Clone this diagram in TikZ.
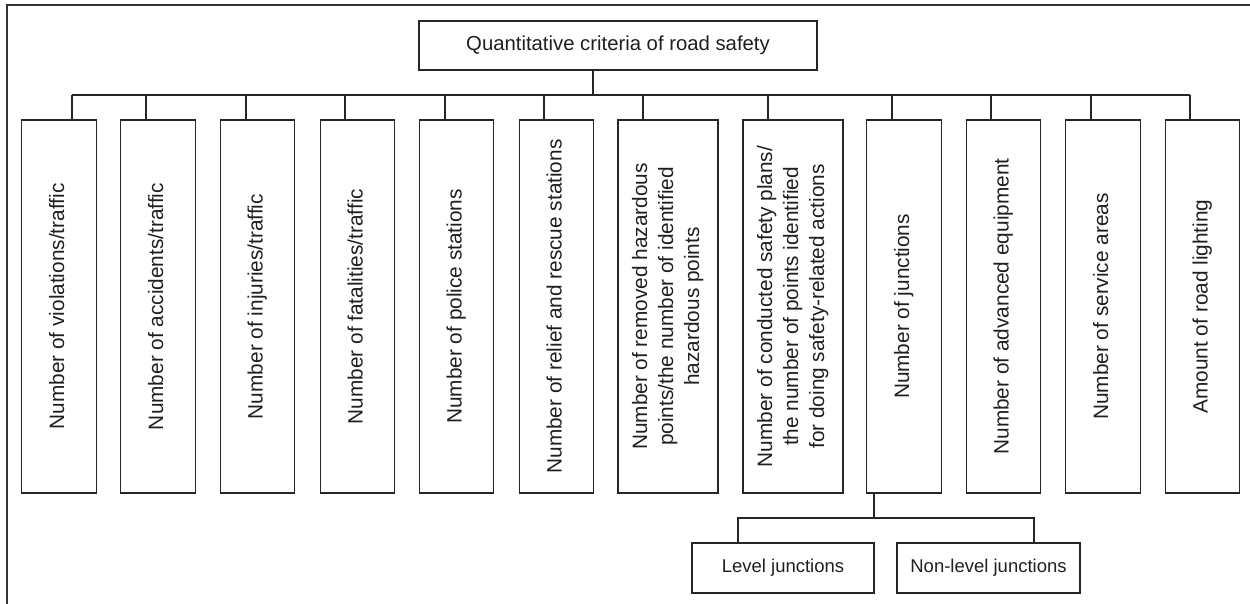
\documentclass[tikz,border=0pt]{standalone}
\usepackage{fontspec}
\setmainfont{Liberation Sans}
\begin{document}
\begin{tikzpicture}[x=1pt,y=-1pt,
  ln/.style={draw=black!85,line width=1.2pt},
  box/.style={ln,rectangle,inner sep=0pt,text=black!88,align=center},
  vbox/.style={box,minimum width=74.5pt,minimum height=373pt},
  wbox/.style={box,minimum width=100pt,minimum height=373pt},
  hbox/.style={box,font=\fontsize{18.5}{22}\selectfont}]
\useasboundingbox (0,0) rectangle (1250,604);
\draw[draw=black!80,line width=1.6pt] (7,620) -- (7,5) -- (1270,5);

\node[box,minimum width=398pt,minimum height=49pt,font=\fontsize{20.3}{24}\selectfont] (top) at (618,45.5) {Quantitative criteria of road safety};

\newcommand{\vtxt}[1]{\rotatebox{90}{\fontsize{20.8}{26}\selectfont\begin{tabular}{@{}c@{}}#1\end{tabular}}}
\node[vbox] (b1) at (59,306.5) {\vtxt{Number of violations/traffic}};
\node[vbox] (b2) at (158,306.5) {\vtxt{Number of accidents/traffic}};
\node[vbox] (b3) at (257.5,306.5) {\vtxt{Number of injuries/traffic}};
\node[vbox] (b4) at (357.5,306.5) {\vtxt{Number of fatalities/traffic}};
\node[vbox] (b5) at (456.5,306.5) {\vtxt{Number of police stations}};
\node[vbox] (b6) at (556.5,306.5) {\vtxt{Number of relief and rescue stations}};
\node[wbox] (b7) at (668,306.5) {\vtxt{Number of removed hazardous\\points/the number of identified\\hazardous points}};
\node[wbox] (b8) at (793,306.5) {\vtxt{Number of conducted safety plans/\\the number of points identified\\for doing safety-related actions}};
\node[vbox] (b9) at (904,306.5) {\vtxt{Number of junctions}};
\node[vbox] (b10) at (1003.5,306.5) {\vtxt{Number of advanced equipment}};
\node[vbox] (b11) at (1103,306.5) {\vtxt{Number of service areas}};
\node[vbox] (b12) at (1202.5,306.5) {\vtxt{Amount of road lighting}};

\node[hbox,minimum width=182pt,minimum height=50pt] (lv) at (783,568) {Level junctions};
\node[hbox,minimum width=183pt,minimum height=50pt] (nl) at (988.5,568) {Non-level junctions};

\coordinate (bus) at (0,95);
\coordinate (jbus) at (0,518);
\coordinate (lvc) at ([xshift=-45pt]lv.north);
\coordinate (nlc) at ([xshift=45.5pt]nl.north);

\draw[ln] ([xshift=-25pt]top.south) -- ([xshift=-25pt]top.south |- bus);
\draw[ln] ([xshift=13pt]b1.north |- bus) -- ([xshift=-12.5pt]b12.north |- bus);
\draw[ln] ([xshift=13pt]b1.north) -- ([xshift=13pt]b1.north |- bus);
\foreach \b/\s in {b2/-12,b3/-11.5,b4/-12.5,b5/-11.5,b6/-12.5,b7/-25,b8/-25,b9/-12,b10/-12.5,b11/-12,b12/-12.5}
  \draw[ln] ([xshift=\s pt]\b.north) -- ([xshift=\s pt]\b.north |- bus);

\draw[ln] ([xshift=-30pt]b9.south) -- ([xshift=-30pt]b9.south |- jbus);
\draw[ln] (lvc) -- (lvc |- jbus) -- (nlc |- jbus) -- (nlc);
\end{tikzpicture}
\end{document}
